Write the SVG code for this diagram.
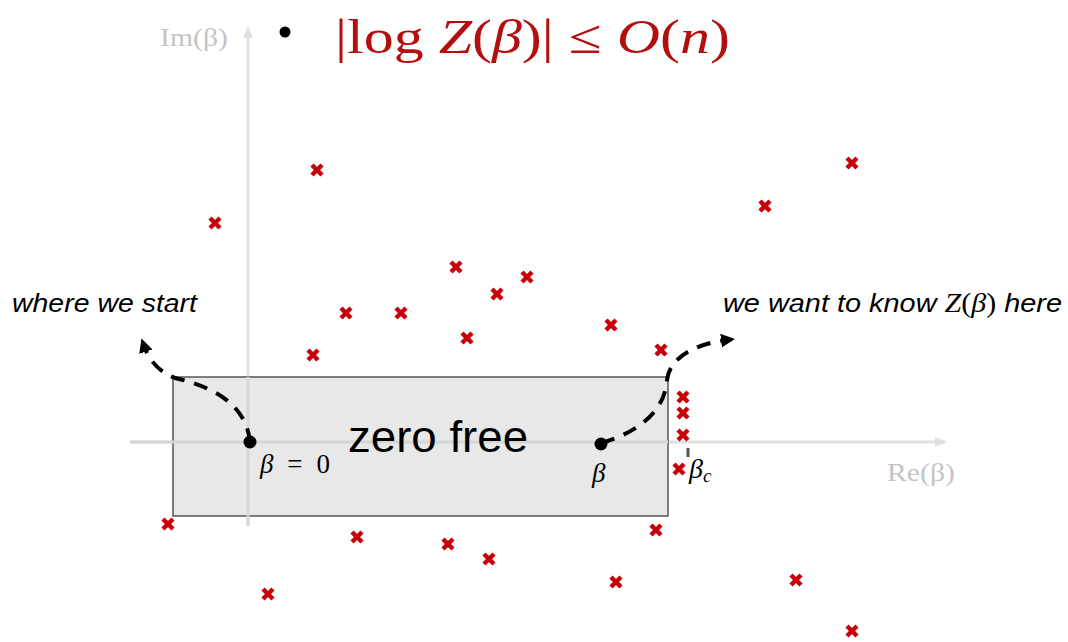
<svg xmlns="http://www.w3.org/2000/svg" width="1068" height="642" viewBox="0 0 1068 642">
<defs>
<style>
.axis{stroke:#e0e0e0;stroke-width:3;fill:none}
.axlab{font-family:"Liberation Serif",serif;font-size:25px;fill:#c4c4c4}
.x{stroke:#c8000a;stroke-width:4.5}
.dash{stroke:#000;stroke-width:4;fill:none;stroke-dasharray:14 10}
.lbl{font-family:"Liberation Sans",Arial,sans-serif;font-style:italic;font-size:26px;fill:#000}
.math{font-family:"Liberation Serif",serif;font-style:italic}
</style>
<marker id="ah" markerWidth="14" markerHeight="14" refX="6" refY="7" orient="auto" markerUnits="userSpaceOnUse" viewBox="0 0 14 14">
<path d="M0,0 L14,7 L0,14 z" fill="#000"/>
</marker>
<marker id="axh" markerWidth="14" markerHeight="14" refX="10" refY="7" orient="auto" markerUnits="userSpaceOnUse" viewBox="0 0 14 14">
<path d="M0,2 L12,7 L0,12 z" fill="#e0e0e0"/>
</marker>
<g id="xm"><line class="x" x1="-5" y1="-5" x2="5" y2="5"/><line class="x" x1="-5" y1="5" x2="5" y2="-5"/></g>
</defs>
<rect width="1068" height="642" fill="#fff"/>
<g id="axes">
<line class="axis" x1="130" y1="442" x2="945" y2="442" marker-end="url(#axh)"/>
<line class="axis" x1="248" y1="526" x2="248" y2="28" marker-end="url(#axh)"/>
<text class="axlab" x="160" y="46" textLength="68" lengthAdjust="spacingAndGlyphs">Im(β)</text>
<text class="axlab" x="887" y="481" textLength="68" lengthAdjust="spacingAndGlyphs">Re(β)</text>
</g>
<g id="title">
<circle cx="285" cy="32" r="5.5" fill="#000"/>
<text x="335" y="53" font-family="'Liberation Serif',serif" font-size="48" fill="#b40f0f" textLength="395" lengthAdjust="spacingAndGlyphs">|log <tspan class="math">Z</tspan>(<tspan class="math">β</tspan>)| ≤ <tspan class="math">O</tspan>(<tspan class="math">n</tspan>)</text>
</g>
<g id="zerofree">
<rect x="173" y="377" width="495" height="139" fill="#e6e6e6" fill-opacity="0.9" stroke="#555" stroke-width="1.5"/>
<line x1="130" y1="442" x2="668" y2="442" stroke="#d6d6d6" stroke-width="3"/>
<line x1="248" y1="377" x2="248" y2="526" stroke="#d6d6d6" stroke-width="3"/>
<text x="348" y="452" font-family="'Liberation Sans',Arial,sans-serif" font-size="44" fill="#000" textLength="180" lengthAdjust="spacingAndGlyphs">zero free</text>
</g>
<g id="zeros">
<use href="#xm" x="317" y="170"/><use href="#xm" x="852" y="163"/><use href="#xm" x="215" y="223"/>
<use href="#xm" x="765" y="206"/><use href="#xm" x="456" y="267"/><use href="#xm" x="527" y="277"/>
<use href="#xm" x="497" y="294"/><use href="#xm" x="346" y="313"/><use href="#xm" x="401" y="313"/>
<use href="#xm" x="611" y="325"/><use href="#xm" x="467" y="338"/><use href="#xm" x="313" y="355"/>
<use href="#xm" x="661" y="350"/><use href="#xm" x="683" y="397"/><use href="#xm" x="683" y="413"/>
<use href="#xm" x="683" y="435"/><use href="#xm" x="679" y="469"/><use href="#xm" x="168" y="524"/>
<use href="#xm" x="656" y="530"/><use href="#xm" x="357" y="537"/><use href="#xm" x="448" y="544"/>
<use href="#xm" x="489" y="559"/><use href="#xm" x="616" y="582"/><use href="#xm" x="796" y="580"/>
<use href="#xm" x="268" y="594"/><use href="#xm" x="852" y="631"/>
</g>
<g id="start">
<circle cx="250" cy="442" r="6.5" fill="#000"/>
<text x="260" y="473" font-family="'Liberation Serif',serif" font-size="27" fill="#000" textLength="70"><tspan class="math">β</tspan> = 0</text>
</g>
<g id="beta">
<circle cx="601" cy="444" r="6.5" fill="#000"/>
<text x="592" y="482" class="math" font-size="27" fill="#000">β</text>
</g>
<g id="betac">
<line x1="688" y1="448" x2="688" y2="457" stroke="#555" stroke-width="3"/>
<text x="689" y="478" class="math" font-size="28" fill="#000">β<tspan font-size="19" dy="4">c</tspan></text>
</g>
<g id="connectors">
<path class="dash" d="M250,442 C246,400 205,385 175,378 C158,372 148,358 144,346" marker-end="url(#ah)"/>
<path class="dash" d="M601,443 C640,432 665,410 667,380 C670,355 700,343 727,340" marker-end="url(#ah)"/>
</g>
<g id="labels">
<text class="lbl" x="12" y="312" textLength="185" lengthAdjust="spacingAndGlyphs">where we start</text>
<text class="lbl" x="723" y="312" textLength="339" lengthAdjust="spacingAndGlyphs">we want to know <tspan font-family="'Liberation Serif',serif" font-size="27">Z</tspan><tspan font-family="'Liberation Serif',serif" font-style="normal" font-size="27">(</tspan><tspan font-family="'Liberation Serif',serif" font-size="27">β</tspan><tspan font-family="'Liberation Serif',serif" font-style="normal" font-size="27">)</tspan> here</text>
</g>
</svg>
